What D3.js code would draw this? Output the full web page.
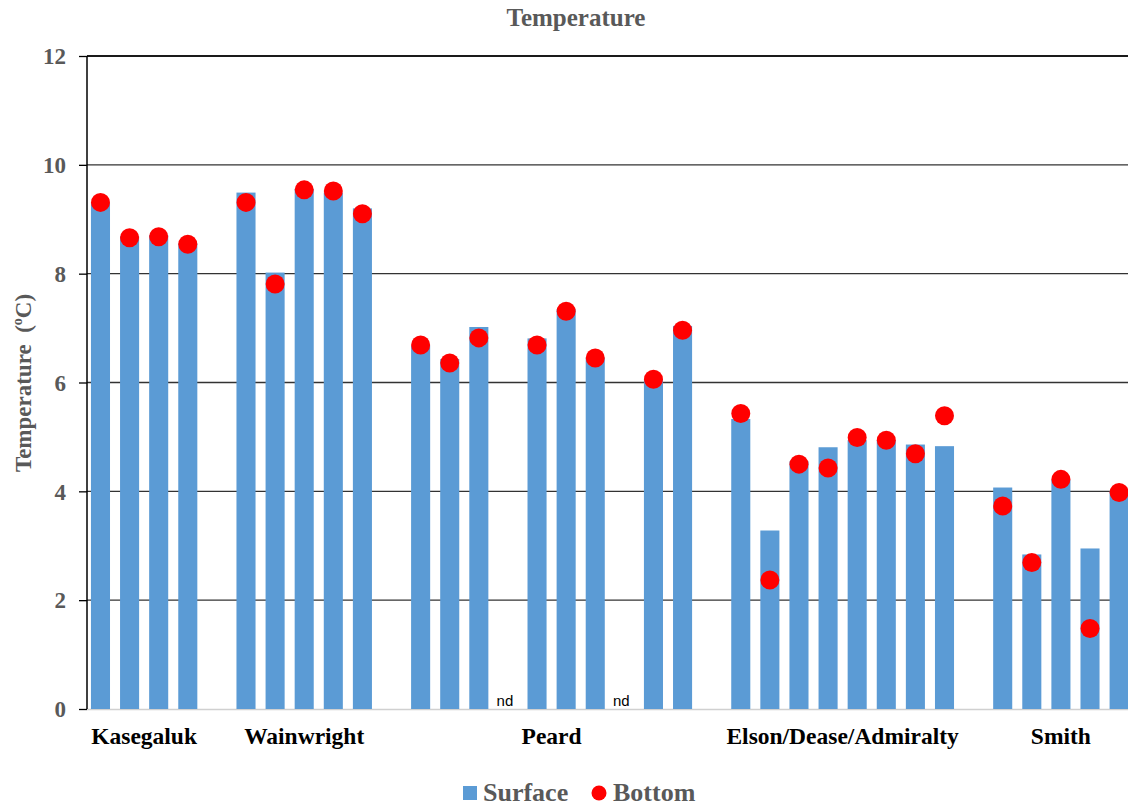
<!DOCTYPE html>
<html>
<head>
<meta charset="utf-8">
<script src="https://cdn.jsdelivr.net/npm/d3@7"></script>
<style>
  html, body { margin: 0; padding: 0; background: #fff; }
  svg { display: block; }
</style>
</head>
<body>
<svg id="chart" width="1128" height="807"></svg>
<script>
// ---- data ----
const groups = ["Kasegaluk", "Wainwright", "Peard", "Elson/Dease/Admiralty", "Smith"];
// group index of every slot on the x axis (null = spacer between groups)
const slotGroup = [0,0,0,0, null, 1,1,1,1,1, null, 2,2,2,2,2,2,2,2,2,2, null, 3,3,3,3,3,3,3,3, null, 4,4,4,4,4];
const surface = [9.30, 8.69, 8.71, 8.56, null,
                 9.49, 8.02, 9.56, 9.49, 9.20, null,
                 6.68, 6.43, 7.02, null, 6.81, 7.35, 6.46, null, 6.05, 7.04, null,
                 5.33, 3.28, 4.55, 4.81, 4.94, 4.94, 4.86, 4.83, null,
                 4.07, 2.84, 4.21, 2.95, 4.00];
const bottom  = [9.31, 8.66, 8.68, 8.54, null,
                 9.31, 7.81, 9.54, 9.52, 9.10, null,
                 6.69, 6.36, 6.82, null, 6.69, 7.31, 6.45, null, 6.06, 6.96, null,
                 5.43, 2.37, 4.50, 4.43, 4.99, 4.94, 4.69, 5.39, null,
                 3.73, 2.69, 4.22, 1.48, 3.98];
const noDataSlots = [14, 18];
const noDataLabel = "nd";
const yTicks = [0, 2, 4, 6, 8, 10, 12];
const seriesNames = ["Surface", "Bottom"];
const title = "Temperature";
const yTitle = "Temperature";

// ---- layout ----
const svg = d3.select("#chart");
const serif = "'Liberation Serif', 'Times New Roman', serif";
const slots = slotGroup.map((g, i) => i);

const x = d3.scaleBand()
  .domain(slots)
  .range([86, 86 + slots.length * 29.1])
  .paddingInner(0.345)
  .paddingOuter(0.17);

const y = d3.scaleLinear().domain([0, 12]).range([709, 56]);

// gridlines
svg.append("g").selectAll("line")
  .data(yTicks.filter(t => t > 0))
  .join("line")
  .attr("x1", 87).attr("x2", 1128)
  .attr("y1", d => y(d)).attr("y2", d => y(d))
  .attr("stroke", d => d === 12 ? "#1a1a1a" : "#333")
  .attr("stroke-width", d => d === 12 ? 2 : 1.3);

// baseline (category axis)
svg.append("line")
  .attr("x1", 87).attr("x2", 1128)
  .attr("y1", y(0) + 0.5).attr("y2", y(0) + 0.5)
  .attr("stroke", "#d0d0d0").attr("stroke-width", 1.5);

// bars
svg.append("g").selectAll("rect")
  .data(slots.filter(i => surface[i] != null))
  .join("rect")
  .attr("x", i => x(i))
  .attr("width", x.bandwidth())
  .attr("y", i => y(surface[i]))
  .attr("height", i => y(0) - y(surface[i]))
  .attr("fill", "#5B9BD5");

// bottom dots
svg.append("g").selectAll("circle")
  .data(slots.filter(i => bottom[i] != null))
  .join("circle")
  .attr("cx", i => x(i) + x.bandwidth() / 2)
  .attr("cy", i => y(bottom[i]))
  .attr("r", 9.5)
  .attr("fill", "#FF0000");

// nd labels
svg.append("g").selectAll("text")
  .data(noDataSlots)
  .join("text")
  .attr("x", i => x(i) + x.bandwidth() / 2 - 3)
  .attr("y", 706)
  .attr("text-anchor", "middle")
  .attr("font-family", "'Liberation Sans', Arial, sans-serif")
  .attr("font-size", 15)
  .attr("fill", "#000")
  .text(noDataLabel);

// y axis
const yAxis = d3.axisLeft(y).tickValues(yTicks).tickSize(8).tickPadding(13).tickFormat(d3.format("d"));
const ya = svg.append("g").attr("transform", "translate(87,0)").call(yAxis);
ya.select(".domain").attr("stroke", "#000").attr("stroke-width", 1.5).attr("d", `M0,${y(12)}V${y(0)}`);
ya.selectAll(".tick line").attr("stroke", "#000").attr("stroke-width", 1.3);
ya.selectAll(".tick text")
  .attr("font-family", serif)
  .attr("font-size", 23)
  .attr("font-weight", "bold")
  .attr("fill", "#595959")
  .attr("dy", "0.34em");

// group labels
svg.append("g").selectAll("text")
  .data(groups)
  .join("text")
  .attr("x", (g, gi) => {
    const s = slots.filter(i => slotGroup[i] === gi);
    return (x(s[0]) + x(s[s.length - 1]) + x.bandwidth()) / 2;
  })
  .attr("y", 744)
  .attr("text-anchor", "middle")
  .attr("font-family", serif)
  .attr("font-size", 23.5)
  .attr("font-weight", "bold")
  .attr("fill", "#000")
  .text(d => d);

// title
svg.append("text")
  .attr("x", 576).attr("y", 26)
  .attr("text-anchor", "middle")
  .attr("font-family", serif)
  .attr("font-size", 25)
  .attr("font-weight", "bold")
  .attr("fill", "#595959")
  .text(title);

// y title
const yt = svg.append("text")
  .attr("transform", "translate(31,383) rotate(-90)")
  .attr("text-anchor", "middle")
  .attr("font-family", serif)
  .attr("font-size", 23)
  .attr("font-weight", "bold")
  .attr("fill", "#595959");
yt.append("tspan").text(yTitle + "\u00a0\u00a0(");
yt.append("tspan").attr("font-size", 14).attr("dy", -9).text("o");
yt.append("tspan").attr("dy", 9).text("C)");

// legend
const lg = svg.append("g");
lg.append("rect").attr("x", 463).attr("y", 786).attr("width", 14).attr("height", 14).attr("fill", "#5B9BD5");
lg.append("text").attr("x", 483).attr("y", 801)
  .attr("font-family", serif).attr("font-size", 26).attr("font-weight", "bold").attr("fill", "#595959")
  .text(seriesNames[0]);
lg.append("circle").attr("cx", 599).attr("cy", 793).attr("r", 7.5).attr("fill", "#FF0000");
lg.append("text").attr("x", 613).attr("y", 801)
  .attr("font-family", serif).attr("font-size", 26).attr("font-weight", "bold").attr("fill", "#595959")
  .text(seriesNames[1]);
</script>
</body>
</html>
